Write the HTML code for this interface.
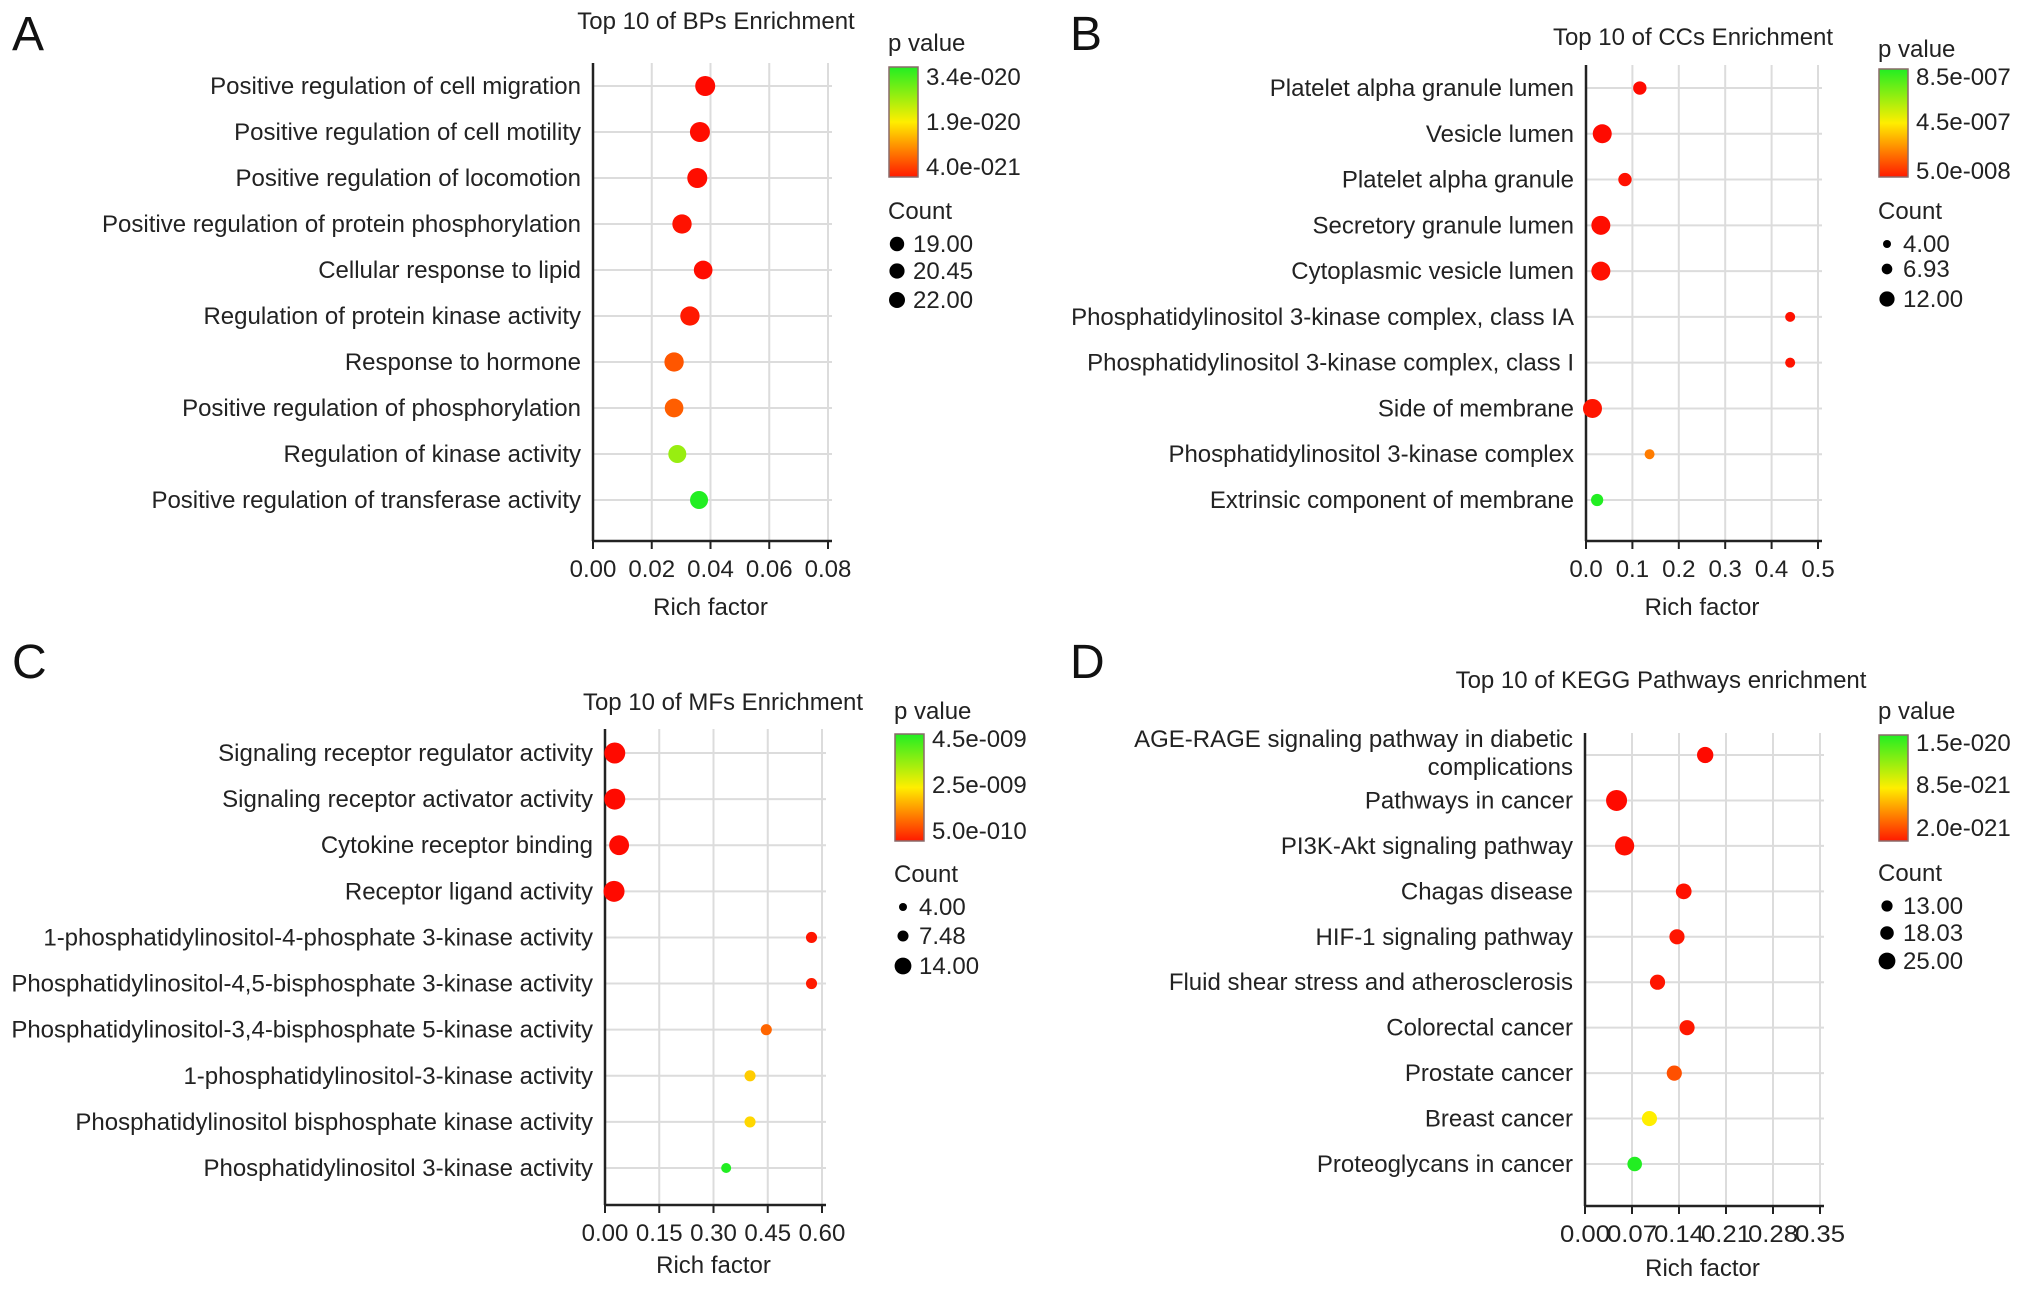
<!DOCTYPE html>
<html><head><meta charset="utf-8"><style>
html,body{margin:0;padding:0;background:#fff;overflow:hidden}
svg{display:block;font-family:"Liberation Sans",sans-serif}
</style></head><body>
<svg id="fig" width="2032" height="1289" viewBox="0 0 2032 1289">
<defs><linearGradient id="cb" x1="0" y1="0" x2="0" y2="1">
<stop offset="0" stop-color="#22ee22"/><stop offset="0.5" stop-color="#ffee00"/><stop offset="1" stop-color="#ff1a00"/></linearGradient></defs>
</svg>
<script>
// Panel A data
const aCats=["Positive regulation of cell migration","Positive regulation of cell motility","Positive regulation of locomotion","Positive regulation of protein phosphorylation","Cellular response to lipid","Regulation of protein kinase activity","Response to hormone","Positive regulation of phosphorylation","Regulation of kinase activity","Positive regulation of transferase activity"];
const aRich=[0.0382,0.0364,0.0355,0.0303,0.0375,0.033,0.0276,0.0276,0.0287,0.0361];
const aCount=[22,22,22,21,20,21,21,20,19,19];
const aP=[4.0e-21,4.1e-21,4.2e-21,4.5e-21,4.2e-21,5e-21,9e-21,9.5e-21,2.6e-20,3.4e-20];
const aTicks=["0.00","0.02","0.04","0.06","0.08"];
const aPTicks=["3.4e-020","1.9e-020","4.0e-021"];
const aCTicks=["19.00","20.45","22.00"];
// Panel B data
const bCats=["Platelet alpha granule lumen","Vesicle lumen","Platelet alpha granule","Secretory granule lumen","Cytoplasmic vesicle lumen","Phosphatidylinositol 3-kinase complex, class IA","Phosphatidylinositol 3-kinase complex, class I","Side of membrane","Phosphatidylinositol 3-kinase complex","Extrinsic component of membrane"];
const bRich=[0.116,0.035,0.084,0.032,0.032,0.44,0.44,0.014,0.137,0.024];
const bCount=[7,12,7,12,12,4,4,12,4,6];
const bP=[5e-8,5e-8,6e-8,5.5e-8,6e-8,6e-8,6.5e-8,7e-8,2.5e-7,8.5e-7];
const bTicks=["0.0","0.1","0.2","0.3","0.4","0.5"];
const bPTicks=["8.5e-007","4.5e-007","5.0e-008"];
const bCTicks=["4.00","6.93","12.00"];
// Panel C data
const cCats=["Signaling receptor regulator activity","Signaling receptor activator activity","Cytokine receptor binding","Receptor ligand activity","1-phosphatidylinositol-4-phosphate 3-kinase activity","Phosphatidylinositol-4,5-bisphosphate 3-kinase activity","Phosphatidylinositol-3,4-bisphosphate 5-kinase activity","1-phosphatidylinositol-3-kinase activity","Phosphatidylinositol bisphosphate kinase activity","Phosphatidylinositol 3-kinase activity"];
const cRich=[0.027,0.027,0.039,0.025,0.571,0.571,0.446,0.401,0.401,0.335];
const cCount=[14,14,13,14,5,5,5,5,5,4];
const cP=[5e-10,5e-10,5e-10,5e-10,6e-10,6.5e-10,1.3e-9,2.2e-9,2.3e-9,4.5e-9];
const cTicks=["0.00","0.15","0.30","0.45","0.60"];
const cPTicks=["4.5e-009","2.5e-009","5.0e-010"];
const cCTicks=["4.00","7.48","14.00"];
// Panel D data
const dCats=["AGE-RAGE signaling pathway in diabetic|complications","Pathways in cancer","PI3K-Akt signaling pathway","Chagas disease","HIF-1 signaling pathway","Fluid shear stress and atherosclerosis","Colorectal cancer","Prostate cancer","Breast cancer","Proteoglycans in cancer"];
const dRich=[0.179,0.047,0.059,0.147,0.137,0.108,0.152,0.133,0.096,0.074];
const dCount=[17,25,22,16,15,15,15,15,15,14];
const dP=[2e-21,2e-21,2.1e-21,2.2e-21,2.3e-21,2.3e-21,2.4e-21,4e-21,8.5e-21,1.5e-20];
const dTicks=["0.00","0.07","0.14","0.21","0.28","0.35"];
const dPTicks=["1.5e-020","8.5e-021","2.0e-021"];
const dCTicks=["13.00","18.03","25.00"];

const svg=document.getElementById('fig');
const NS='http://www.w3.org/2000/svg';
function mk(tag,attrs,parent,txt){const e=document.createElementNS(NS,tag);for(const k in attrs)e.setAttribute(k,attrs[k]);if(txt!==undefined)e.textContent=txt;(parent||svg).appendChild(e);return e;}
function lerp(a,b,t){return a+(b-a)*t;}
function pColor(t){
  let r,g,b;
  if(t<0.5){const u=t/0.5;r=255;g=Math.round(lerp(10,238,u));b=0;}
  else{const u=(t-0.5)/0.5;r=Math.round(lerp(255,34,u));g=238;b=Math.round(lerp(0,34,u));}
  return `rgb(${r},${g},${b})`;
}
const FS=24;
function panel(o){
  const g=mk('g',{});
  
  
  const letter=mk('text',{x:o.lx,y:o.ly,'font-size':48,fill:'#111'},g,o.id);
  
  const tl=mk('text',{x:o.tx,y:o.ty+8,'font-size':FS,'text-anchor':'middle',fill:'#222'},g,o.title);
  
  const n=o.cats.length, xmax=parseFloat(o.ticks[o.ticks.length-1]);
  const xs=v=>o.x0+(v/xmax)*(o.x1-o.x0);
  const ys=i=>o.y0+i*(o.y9-o.y0)/(n-1);
  o.ticks.forEach(t=>{const x=xs(parseFloat(t));
    const gl=mk('line',{x1:x,x2:x,y1:o.top,y2:o.bot,stroke:'#dcdcdc','stroke-width':2},g);
    });
  o.cats.forEach((c,i)=>{const y=ys(i);
    const gl=mk('line',{x1:o.x0,x2:o.x1+4,y1:y,y2:y,stroke:'#dcdcdc','stroke-width':2},g);
    
    const parts=c.split('|');
    parts.forEach((p,k)=>{const yy=y+8+(parts.length>1?(k===0?-16:12):0);
      const t=mk('text',{x:o.x0-12,y:yy,'font-size':FS,'text-anchor':'end',fill:'#222'},g,p);
      });
  });
  const ya=mk('line',{x1:o.x0,x2:o.x0,y1:o.top,y2:o.bot,stroke:'#222','stroke-width':2.5},g);
  
  const xa=mk('line',{x1:o.x0,x2:o.x1+4,y1:o.bot,y2:o.bot,stroke:'#222','stroke-width':2.5},g);
  
  o.ticks.forEach(t=>{const x=xs(parseFloat(t));
    mk('line',{x1:x,x2:x,y1:o.bot,y2:o.bot+8,stroke:'#222','stroke-width':2},g);
    const tt=mk('text',{x:x,y:o.bot+36,'font-size':FS,'text-anchor':'middle',fill:'#222',...(o.tickLen?{textLength:o.tickLen,lengthAdjust:'spacingAndGlyphs'}:{})},g,t);
    });
  const xt=mk('text',{x:(o.x0+o.x1)/2,y:o.bot+o.rf,'font-size':FS,'text-anchor':'middle',fill:'#222'},g,'Rich factor');
  
  const pmin=Math.min(...o.p),pmax=Math.max(...o.p);
  const cmin=parseFloat(o.cticks[0]),cmax=parseFloat(o.cticks[2]);
  const rad=c=>lerp(o.rmin,o.rmax,(c-cmin)/(cmax-cmin||1));
  o.rich.forEach((v,i)=>{
    const t=(o.p[i]-pmin)/(pmax-pmin);
    const d=mk('circle',{cx:xs(v),cy:ys(i),r:rad(o.count[i]),fill:pColor(t)},g);
    });
  const L=o.leg;
  const pv=mk('text',{x:L.x,y:L.py+8,'font-size':FS,fill:'#222'},g,'p value');
  
  const cb=mk('rect',{x:L.x+1,y:L.cbTop,width:29,height:L.cbBot-L.cbTop,fill:'url(#cb)',stroke:'#8a6a6a','stroke-width':1.5},g);
  
  o.pticks.forEach((s,k)=>{const y=L.pl[k];
    const tt=mk('text',{x:L.x+38,y:y+8,'font-size':FS,fill:'#222'},g,s);
    });
  const ct=mk('text',{x:L.x,y:L.cy+8,'font-size':FS,fill:'#222'},g,'Count');
  
  o.cticks.forEach((s,k)=>{const y=L.cl[k];
    const c=mk('circle',{cx:L.x+9,cy:y,r:rad(parseFloat(s))*0.8,fill:'#000'},g);
    
    const tt=mk('text',{x:L.x+25,y:y+8,'font-size':FS,fill:'#222'},g,s);
    });
}
panel({id:'A',lx:12,ly:50,title:'Top 10 of BPs Enrichment',tx:716,ty:21,cats:aCats,rich:aRich,count:aCount,p:aP,ticks:aTicks,pticks:aPTicks,cticks:aCTicks,
  x0:593,x1:828,top:63,bot:541,y0:86,y9:500,rmin:9,rmax:10,rf:74,
  leg:{x:888,py:43,cbTop:67,cbBot:177,pl:[77,122,167],cy:211,cl:[244,271,300]}});
panel({id:'B',lx:1070,ly:50,title:'Top 10 of CCs Enrichment',tx:1693,ty:37,cats:bCats,rich:bRich,count:bCount,p:bP,ticks:bTicks,pticks:bPTicks,cticks:bCTicks,
  x0:1586,x1:1818,top:65,bot:541,y0:88,y9:500,rmin:5,rmax:9.5,rf:74,
  leg:{x:1878,py:49,cbTop:69,cbBot:177,pl:[77,122,171],cy:211,cl:[244,269,299]}});
panel({id:'C',lx:12,ly:678,title:'Top 10 of MFs Enrichment',tx:723,ty:702,cats:cCats,rich:cRich,count:cCount,p:cP,ticks:cTicks,pticks:cPTicks,cticks:cCTicks,
  x0:605,x1:822,top:729,bot:1205,y0:753,y9:1168,rmin:5,rmax:10.5,rf:68,
  leg:{x:894,py:711,cbTop:734,cbBot:841,pl:[739,785,831],cy:874,cl:[907,936,966]}});
panel({id:'D',lx:1070,ly:678,title:'Top 10 of KEGG Pathways enrichment',tx:1661,ty:680,cats:dCats,rich:dRich,count:dCount,p:dP,ticks:dTicks,pticks:dPTicks,cticks:dCTicks,
  x0:1585,x1:1820,top:733,bot:1206,y0:755,y9:1164,rmin:7,rmax:10.5,tickLen:50,rf:70,
  leg:{x:1878,py:711,cbTop:735,cbBot:841,pl:[743,785,828],cy:873,cl:[906,933,961]}});
</script>
</body></html>
